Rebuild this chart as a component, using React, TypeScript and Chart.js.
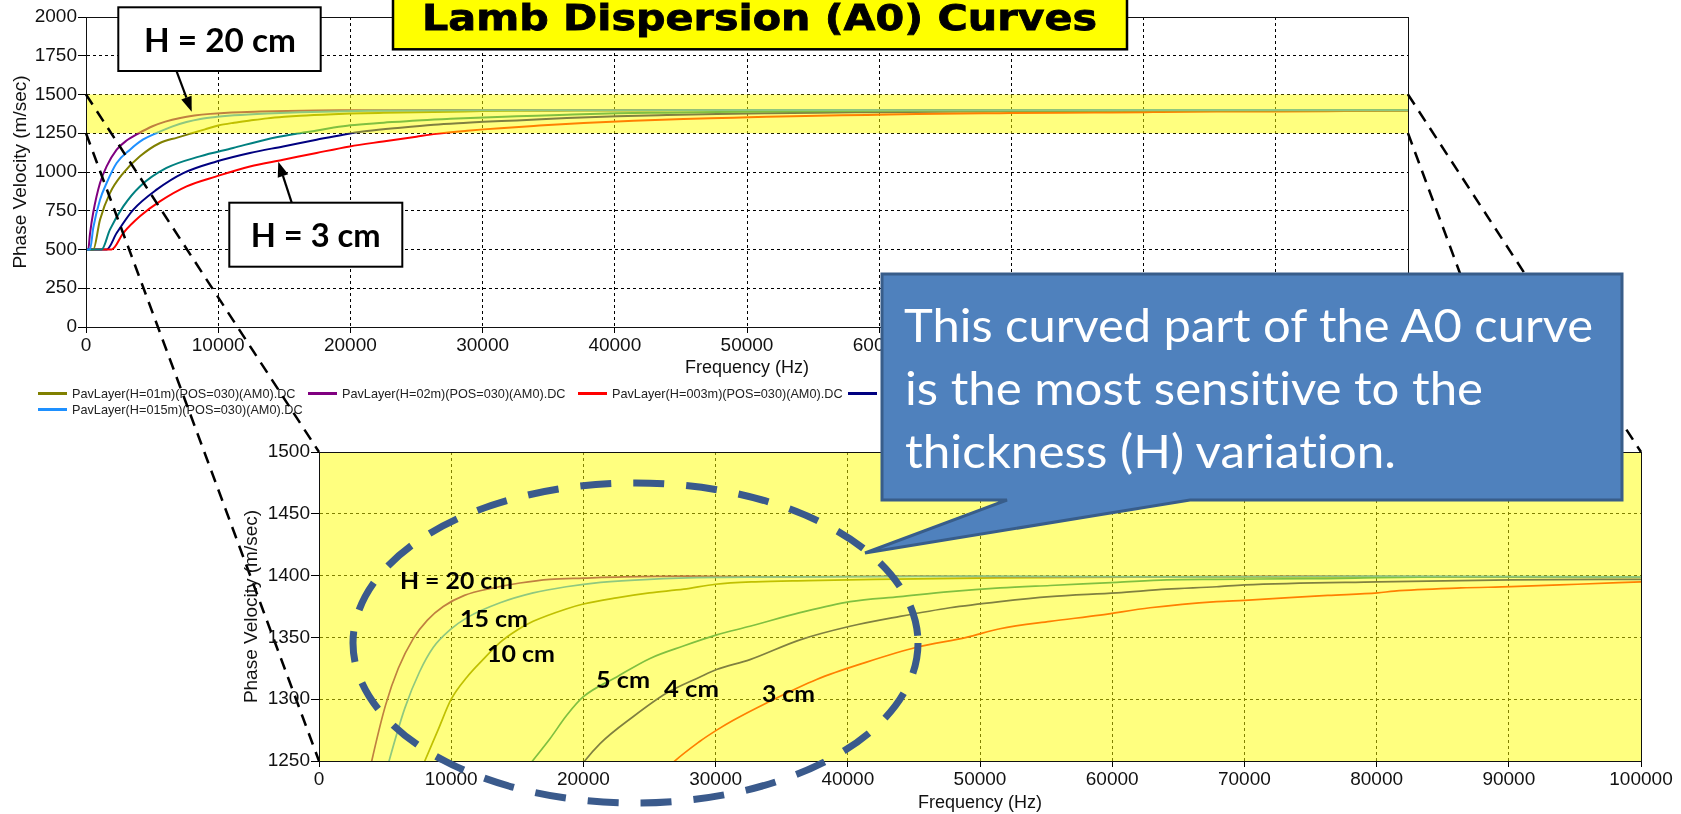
import React, { useEffect, useRef, useState } from "react";
import { Chart, registerables } from "chart.js";

Chart.register(...registerables);

// ---------------- data ----------------
// frequency (Hz) / phase velocity (m/s) per layer thickness
const FREQ_H10 = [0, 550, 1060, 1810, 2820, 4080, 5590, 6900, 8000, 9000, 10000, 11200, 12400, 13700, 15000, 16200, 18700, 20000, 22500, 25000, 27600, 30000, 33000, 37000, 42000, 50000, 65000, 80000, 100000];
const VEL_H10 = [500, 500, 692, 864, 993, 1101, 1187, 1222, 1250, 1275, 1300, 1318, 1332, 1346, 1356, 1363, 1373, 1377, 1382, 1386, 1389, 1393, 1395, 1396, 1397, 1398, 1399, 1399, 1399];

const FREQ_H20 = [0, 170, 300, 550, 1060, 1560, 2320, 3070, 3990, 5030, 6000, 7130, 8200, 9400, 11000, 13190, 15200, 17470, 20000, 23000, 28000, 35000, 45000, 60000, 75000, 90000, 100000];
const VEL_H20 = [500, 500, 600, 740, 929, 1036, 1144, 1203, 1250, 1295, 1325, 1349, 1364, 1375, 1384, 1390, 1394, 1397, 1398, 1399, 1399.5, 1399, 1399.5, 1399, 1399.5, 1399, 1399];

const FREQ_H3 = [0, 1940, 2820, 4080, 5590, 7610, 9870, 12400, 14910, 17440, 19950, 22470, 24990, 26500, 28820, 30080, 31340, 33860, 37640, 41420, 45200, 48980, 51510, 55300, 59080, 62860, 67900, 70000, 76310, 80080, 81340, 86390, 90170, 95210, 100000];
const VEL_H3 = [500, 500, 606, 714, 810, 907, 972, 1036, 1079, 1123, 1165, 1197, 1228, 1246, 1266, 1275, 1283, 1297, 1316, 1330, 1342, 1350, 1357, 1363, 1368, 1374, 1379, 1380, 1384, 1386, 1387.5, 1390, 1391, 1393, 1395];

const FREQ_H4 = [0, 1560, 2320, 3580, 5340, 7360, 9870, 12400, 14910, 17440, 19450, 21260, 23780, 26300, 28820, 30080, 32600, 36380, 40170, 43950, 47730, 51510, 55300, 60340, 64120, 67900, 70000, 80080, 90170, 100000];
const VEL_H4 = [500, 500, 606, 757, 886, 993, 1068, 1123, 1165, 1208, 1241, 1264, 1286, 1305, 1318, 1324, 1332, 1348, 1359, 1367, 1374, 1379, 1383, 1386, 1389, 1391, 1392.5, 1395, 1396.5, 1397];

const FREQ_H5 = [0, 1180, 1810, 2820, 4080, 6090, 8620, 11130, 13650, 15800, 17470, 18740, 20000, 22520, 25040, 27560, 30080, 32600, 36380, 40170, 43950, 47730, 51510, 55300, 60340, 64120, 67900, 75000, 85000, 100000];
const VEL_H5 = [500, 500, 628, 778, 907, 1026, 1101, 1155, 1210, 1245, 1268, 1287, 1302, 1318, 1333, 1343, 1352, 1359, 1370, 1379, 1383, 1387, 1390, 1392, 1394.5, 1396.5, 1397, 1397.5, 1399, 1399];

const FREQ_H15 = [0, 300, 550, 1060, 1560, 2320, 3330, 4330, 5300, 6500, 7600, 8650, 9900, 11200, 13700, 16200, 18700, 21300, 25000, 30000, 38000, 50000, 65000, 80000, 100000];
const VEL_H15 = [500, 500, 640, 821, 929, 1058, 1144, 1210, 1250, 1293, 1322, 1342, 1356, 1366, 1378, 1386, 1391, 1394.5, 1397, 1398.5, 1399, 1399.5, 1399, 1399.5, 1399];

const SERIES_LABELS = [
  "PavLayer(H=01m)(POS=030)(AM0).DC",
  "PavLayer(H=02m)(POS=030)(AM0).DC",
  "PavLayer(H=003m)(POS=030)(AM0).DC",
  "PavLayer(H=004m)(POS=030)(AM0).DC",
  "PavLayer(H=005m)(POS=030)(AM0).DC",
  "PavLayer(H=015m)(POS=030)(AM0).DC",
];
const SERIES_FREQS = [FREQ_H10, FREQ_H20, FREQ_H3, FREQ_H4, FREQ_H5, FREQ_H15];
const SERIES_VELS = [VEL_H10, VEL_H20, VEL_H3, VEL_H4, VEL_H5, VEL_H15];

const X_RANGE = [0, 100000, 10000];
const TOP_Y_RANGE = [0, 2000, 250];
const ZOOM_Y_RANGE = [1250, 1500, 50];

const INSET_LABELS = ["H = 20 cm", "15 cm", "10 cm", "5 cm", "4 cm", "3 cm"];

// ---------------- styles ----------------
const SERIES_COLORS = ["#808000", "#800080", "#FF0000", "#000080", "#008080", "#1E90FF"];
const SERIES_DRAW_ORDER = [3, 2, 4, 5, 1, 0]; // lower = drawn on top
const FONT = "'Liberation Sans', Arial, Helvetica, sans-serif";
const TOP_POS = { left: 0, top: 0, width: 1450, height: 420 };
const INSET_POS = { left: 200, top: 426, width: 1481, height: 388 };

function buildDatasets(lineWidth: number) {
  return SERIES_LABELS.map((label, i) => ({
    label,
    data: SERIES_FREQS[i].map((f, j) => ({ x: f, y: SERIES_VELS[i][j] })),
    borderColor: SERIES_COLORS[i],
    backgroundColor: SERIES_COLORS[i],
    borderWidth: lineWidth,
    pointRadius: 0,
    fill: false,
    order: SERIES_DRAW_ORDER[i],
    cubicInterpolationMode: "monotone" as const,
  }));
}

const panelPlugin = {
  id: "panel",
  beforeDraw(chart: any, _a: any, opts: any) {
    if (!opts.fillWhite) return;
    const { ctx, chartArea: a } = chart;
    ctx.save();
    ctx.fillStyle = "#ffffff";
    ctx.fillRect(a.left, a.top, a.width, a.height);
    ctx.restore();
  },
  afterDatasetsDraw(chart: any, _a: any, opts: any) {
    const { ctx, chartArea: a } = chart;
    const y = chart.scales.y;
    const t = y.getPixelForValue(opts.bandMax);
    const b = y.getPixelForValue(opts.bandMin);
    ctx.save();
    ctx.fillStyle = "rgba(255,255,0,0.5)";
    ctx.fillRect(a.left, t, a.width, b - t);
    ctx.restore();
  },
  afterDraw(chart: any, _a: any, opts: any) {
    const { ctx, chartArea: a } = chart;
    ctx.save();
    ctx.strokeStyle = "#111";
    ctx.lineWidth = 1;
    ctx.setLineDash([]);
    ctx.strokeRect(Math.round(a.left) + 0.5, Math.round(a.top) + 0.5, Math.round(a.width), Math.round(a.height));
    if (opts.legend) {
      const L = opts.legend;
      ctx.font = L.font;
      ctx.textBaseline = "middle";
      ctx.textAlign = "left";
      chart.data.datasets.forEach((ds: any, i: number) => {
        const col = i % L.perRow;
        const row = Math.floor(i / L.perRow);
        const x = L.x0 + col * L.colW;
        const yy = L.y0 + row * L.rowH;
        ctx.strokeStyle = ds.borderColor;
        ctx.lineWidth = 3;
        ctx.beginPath();
        ctx.moveTo(x, yy);
        ctx.lineTo(x + L.lineLen, yy);
        ctx.stroke();
        ctx.fillStyle = "#222";
        ctx.fillText(ds.label, x + L.lineLen + 5, yy + 0.5);
      });
    }
    ctx.restore();
  },
};

function makeOptions(cfg: {
  yRange: number[];
  yWidth: number;
  xHeight: number;
  padding: any;
  panel: any;
}) {
  const tickFont = { family: FONT, size: 19 };
  return {
    animation: false as const,
    responsive: false,
    events: [] as any[],
    layout: { padding: cfg.padding },
    plugins: {
      legend: { display: false },
      tooltip: { enabled: false },
      panel: cfg.panel,
    },
    scales: {
      x: {
        type: "linear" as const,
        min: X_RANGE[0],
        max: X_RANGE[1],
        ticks: {
          stepSize: X_RANGE[2],
          callback: (v: any) => String(v),
          font: tickFont,
          color: "#111",
          padding: 1,
          maxRotation: 0,
          autoSkip: false,
        },
        grid: { color: "#000", tickLength: 6, tickColor: "#000", tickBorderDash: [] },
        border: { color: "#000", width: 1, dash: [3, 3] },
        title: { display: true, text: "Frequency (Hz)", font: { family: FONT, size: 18 }, color: "#111", padding: 0 },
        afterFit: (s: any) => {
          s.height = cfg.xHeight;
        },
      },
      y: {
        type: "linear" as const,
        min: cfg.yRange[0],
        max: cfg.yRange[1],
        ticks: {
          stepSize: cfg.yRange[2],
          callback: (v: any) => String(v),
          font: tickFont,
          color: "#111",
          padding: 1,
          autoSkip: false,
        },
        grid: { color: "#000", tickLength: 8, tickColor: "#000", tickBorderDash: [] },
        border: { color: "#000", width: 1, dash: [3, 3] },
        title: { display: true, text: "Phase Velocity (m/sec)", font: { family: FONT, size: 19 }, color: "#111", padding: 0 },
        afterFit: (s: any) => {
          s.width = cfg.yWidth;
        },
      },
    },
  };
}

function Arrow({ x1, y1, x2, y2 }: { x1: number; y1: number; x2: number; y2: number }) {
  const ang = Math.atan2(y2 - y1, x2 - x1);
  const L = 15;
  const W = 5.5;
  const bx = x2 - L * Math.cos(ang);
  const by = y2 - L * Math.sin(ang);
  const px = -Math.sin(ang) * W;
  const py = Math.cos(ang) * W;
  return (
    <g>
      <line x1={x1} y1={y1} x2={bx} y2={by} stroke="#000" strokeWidth={2.2} />
      <polygon points={`${x2},${y2} ${bx + px},${by + py} ${bx - px},${by - py}`} fill="#000" />
    </g>
  );
}

export default function App() {
  const topRef = useRef<HTMLCanvasElement | null>(null);
  const insetRef = useRef<HTMLCanvasElement | null>(null);
  const [guides, setGuides] = useState<number[][] | null>(null);

  useEffect(() => {
    if (!topRef.current || !insetRef.current) return;
    const top = new Chart(topRef.current, {
      type: "line",
      data: { datasets: buildDatasets(2) as any },
      options: makeOptions({
        yRange: TOP_Y_RANGE,
        yWidth: 77,
        xHeight: 52,
        padding: { left: 9, right: 42, top: 17, bottom: 41 },
        panel: {
          fillWhite: false,
          bandMin: ZOOM_Y_RANGE[0],
          bandMax: ZOOM_Y_RANGE[1],
          legend: { x0: 38, colW: 270, y0: 393.5, rowH: 16, perRow: 5, lineLen: 29, font: `12.7px ${FONT}` },
        },
      }) as any,
      plugins: [panelPlugin],
    });
    const inset = new Chart(insetRef.current, {
      type: "line",
      data: { datasets: buildDatasets(1.7) as any },
      options: makeOptions({
        yRange: ZOOM_Y_RANGE,
        yWidth: 79,
        xHeight: 53,
        padding: { left: 40, right: 40, top: 26, bottom: 0 },
        panel: { fillWhite: true, bandMin: ZOOM_Y_RANGE[0], bandMax: ZOOM_Y_RANGE[1] },
      }) as any,
      plugins: [panelPlugin],
    });

    const tx = top.scales.x;
    const ty = top.scales.y;
    const a = inset.chartArea;
    const l0 = tx.getPixelForValue(X_RANGE[0]) + TOP_POS.left;
    const l1 = tx.getPixelForValue(X_RANGE[1]) + TOP_POS.left;
    const yHi = ty.getPixelForValue(ZOOM_Y_RANGE[1]) + TOP_POS.top;
    const yLo = ty.getPixelForValue(ZOOM_Y_RANGE[0]) + TOP_POS.top;
    const il = a.left + INSET_POS.left;
    const ir = a.right + INSET_POS.left;
    const it = a.top + INSET_POS.top;
    const ib = a.bottom + INSET_POS.top;
    setGuides([
      [l0, yHi, il, it],
      [l0, yLo, il, ib],
      [l1, yHi, ir, it],
      [l1, yLo, ir, ib],
    ]);

    return () => {
      top.destroy();
      inset.destroy();
    };
  }, []);

  const lato = "Lato, 'Open Sans', sans-serif";
  const noLig = { fontVariantLigatures: "none" as const, fontFeatureSettings: "'liga' 0, 'clig' 0" };
  const insetLabelPos = [
    [400, 589.3, 113],
    [460, 626.7, 68],
    [487, 661.7, 68],
    [596, 688.3, 54],
    [664, 696.7, 55],
    [762, 701.7, 53],
  ];

  return (
    <div style={{ position: "absolute", left: 0, top: 0, width: 1681, height: 814, overflow: "hidden", background: "#fff" }}>
      <div style={{ position: "absolute", left: TOP_POS.left, top: TOP_POS.top, width: TOP_POS.width, height: TOP_POS.height }}>
        <canvas ref={topRef} width={TOP_POS.width} height={TOP_POS.height} style={{ width: TOP_POS.width, height: TOP_POS.height, display: "block" }} />
      </div>

      <svg width={1681} height={814} style={{ position: "absolute", left: 0, top: 0, pointerEvents: "none" }}>
        {guides && (
          <g stroke="#000" strokeWidth={2.5} strokeDasharray="12 8" fill="none">
            {guides.map((g, i) => (
              <line key={i} x1={g[0]} y1={g[1]} x2={g[2]} y2={g[3]} />
            ))}
          </g>
        )}
      </svg>

      <div style={{ position: "absolute", left: INSET_POS.left, top: INSET_POS.top, width: INSET_POS.width, height: INSET_POS.height }}>
        <canvas ref={insetRef} width={INSET_POS.width} height={INSET_POS.height} style={{ width: INSET_POS.width, height: INSET_POS.height, display: "block" }} />
      </div>

      <svg width={1681} height={814} style={{ position: "absolute", left: 0, top: 0, pointerEvents: "none", ...noLig }}>
        {/* title */}
        <rect x={393} y={-10} width={734} height={59.3} fill="#FFFF00" stroke="#000" strokeWidth={2.5} />
        <text x={422} y={29.5} fontFamily="'DejaVu Sans', sans-serif" fontWeight="bold" fontSize={36} textLength={675} lengthAdjust="spacingAndGlyphs" fill="#000" stroke="#000" strokeWidth={0.8} style={noLig}>
          Lamb Dispersion (A0) Curves
        </text>

        {/* H = 20 cm box */}
        <rect x={118.3} y={7.3} width={202.4} height={63.7} fill="#fff" stroke="#000" strokeWidth={2} />
        <text x={144} y={51.7} fontFamily={lato} fontWeight={700} fontSize={32} textLength={152} lengthAdjust="spacingAndGlyphs" fill="#000" style={noLig}>
          H = 20 cm
        </text>
        <Arrow x1={176.7} y1={71.7} x2={191.7} y2={111.7} />

        {/* H = 3 cm box */}
        <rect x={229.3} y={202.7} width={173} height={64} fill="#fff" stroke="#000" strokeWidth={2} />
        <text x={250.7} y={246.7} fontFamily={lato} fontWeight={700} fontSize={32} textLength={130} lengthAdjust="spacingAndGlyphs" fill="#000" style={noLig}>
          H = 3 cm
        </text>
        <Arrow x1={291.7} y1={202.7} x2={278.3} y2={161.7} />

        {/* dashed ellipse */}
        <ellipse cx={635.5} cy={643} rx={282.5} ry={160} fill="none" stroke="#3A5A8C" strokeWidth={7} strokeDasharray="31 22" />

        {/* callout */}
        <path d="M882,274 H1622 V500 H1190 L865,553 L1007,500 H882 Z" fill="#4F81BD" stroke="#385D8A" strokeWidth={3} strokeLinejoin="miter" />
        <g fontFamily={lato} fontSize={46.5} fill="#fff" style={noLig}>
          <text x={904} y={341.7} textLength={689} lengthAdjust="spacingAndGlyphs" style={noLig}>This curved part of the A0 curve</text>
          <text x={905} y={405} textLength={578} lengthAdjust="spacingAndGlyphs" style={noLig}>is the most sensitive to the</text>
          <text x={905} y={468.3} textLength={491} lengthAdjust="spacingAndGlyphs" style={noLig}>thickness (H) variation.</text>
        </g>

        {/* inset labels */}
        <g fontFamily={lato} fontWeight={700} fontSize={22} fill="#000" style={noLig}>
          {INSET_LABELS.map((t, i) => (
            <text key={i} x={insetLabelPos[i][0]} y={insetLabelPos[i][1]} textLength={insetLabelPos[i][2]} lengthAdjust="spacingAndGlyphs" style={noLig}>
              {t}
            </text>
          ))}
        </g>
      </svg>
    </div>
  );
}
